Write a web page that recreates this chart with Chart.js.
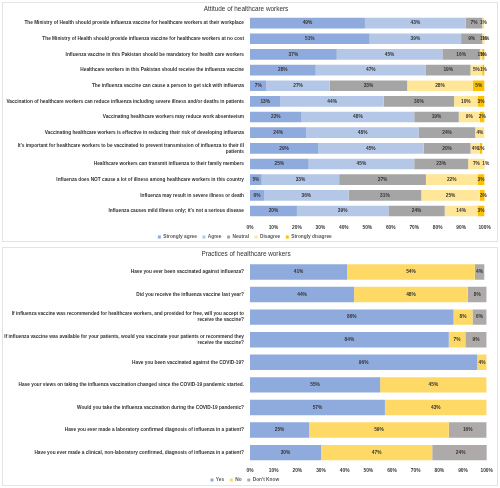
<!DOCTYPE html>
<html>
<head>
<meta charset="utf-8">
<script src="https://cdn.jsdelivr.net/npm/chart.js@4.4.1/dist/chart.umd.min.js"></script>
<style>
body { margin: 0; background: #fff; width: 500px; height: 488px; position: relative; overflow: hidden; }
.panel { position: absolute; left: 2px; width: 494px; border: 1px solid #e4e4e4; background: #fff; }
#p1 { top: 2px; height: 238px; }
#p2 { top: 247px; height: 237px; }
canvas { display: block; }
</style>
</head>
<body>
<div class="panel" id="p1"><canvas id="attitude" width="494" height="238"></canvas></div>
<div class="panel" id="p2"><canvas id="practice" width="494" height="237"></canvas></div>
<script>
const attitudeLabels = [
    'The Ministry of Health should provide influenza vaccine for healthcare workers at their workplace',
    'The Ministry of Health should provide influenza vaccine for healthcare workers at no cost',
    'Influenza vaccine in this Pakistan should be mandatory for health care workers',
    'Healthcare workers in this Pakistan should receive the influenza vaccine',
    'The influenza vaccine can cause a person to get sick with influenza',
    'Vaccination of healthcare workers can reduce influenza including severe illness and/or deaths in patients',
    'Vaccinating healthcare workers may reduce work absenteeism',
    'Vaccinating healthcare workers is effective in reducing their risk of developing influenza',
    ['It\u2019s important for healthcare workers to be vaccinated to prevent transmission of influenza to their ill', 'patients'],
    'Healthcare workers can transmit influenza to their family members',
    'Influenza does NOT cause a lot of illness among healthcare workers in this country',
    'Influenza may result in severe illness or death',
    'Influenza causes mild illness only; it\u2019s not a serious disease'
];
const stronglyAgree    = [49, 51, 37, 28, 7, 13, 22, 24, 29, 25, 5, 6, 20];
const agree            = [43, 39, 45, 47, 27, 44, 48, 48, 45, 45, 33, 36, 39];
const neutral          = [7, 9, 16, 19, 33, 30, 19, 24, 20, 23, 37, 31, 24];
const disagree         = [1, 1, 1, 5, 28, 10, 9, 4, 4, 7, 22, 25, 14];
const stronglyDisagree = [0, 1, 1, 1, 5, 3, 2, 0, 1, 1, 3, 3, 3];

const practiceLabels = [
    'Have you ever been vaccinated against influenza?',
    'Did you receive the influenza vaccine last year?',
    ['If influenza vaccine was recommended for healthcare workers, and provided for free, will you accept to', 'receive the vaccine?'],
    ['If influenza vaccine was available for your patients, would you vaccinate your patients or recommend they', 'receive the vaccine?'],
    'Have you been vaccinated against the COVID-19?',
    'Have your views on taking the influenza vaccination changed since the COVID-19 pandemic started.',
    'Would you take the influenza vaccination during the COVID-19 pandemic?',
    'Have you ever made a laboratory confirmed diagnosis of influenza in a patient?',
    'Have you ever made a clinical, non-laboratory confirmed, diagnosis of influenza in a patient?'
];
const yes       = [41, 44, 86, 84, 96, 55, 57, 25, 30];
const no        = [54, 48, 8, 7, 4, 45, 43, 59, 47];
const dontKnow  = [4, 8, 6, 9, 0, 0, 0, 16, 24];

const xTicks = [0, 10, 20, 30, 40, 50, 60, 70, 80, 90, 100];

const FONT = '"Liberation Sans", Arial, sans-serif';
const TEXT = '#333';

// writes the percent in the middle of each segment
const valueLabels = {
    id: 'valueLabels',
    afterDatasetsDraw(chart) {
        const ctx = chart.ctx;
        ctx.save();
        ctx.font = 'bold 4.8px ' + FONT;
        ctx.fillStyle = TEXT;
        ctx.textAlign = 'center';
        ctx.textBaseline = 'middle';
        chart.data.datasets.forEach((ds, i) => {
            chart.getDatasetMeta(i).data.forEach((bar, j) => {
                const v = ds.data[j];
                if (!v) return;
                const c = bar.getCenterPoint();
                ctx.fillText(v + '%', c.x, c.y);
            });
        });
        ctx.restore();
    }
};

function makeChart(canvas, title, labels, datasets, opts) {
    return new Chart(canvas, {
        type: 'bar',
        data: { labels: labels, datasets: datasets },
        plugins: [valueLabels],
        options: {
            indexAxis: 'y',
            responsive: false,
            animation: false,
            layout: { padding: { left: 0, right: 8, top: 0, bottom: 0 } },
            datasets: { bar: { barPercentage: 0.68, categoryPercentage: 1, borderWidth: 0 } },
            scales: {
                x: {
                    stacked: true,
                    min: 0,
                    max: 100,
                    grid: { display: false, drawTicks: false },
                    border: { display: false },
                    afterBuildTicks: axis => { axis.ticks = xTicks.map(v => ({ value: v })); },
                    afterFit: axis => { axis.height = opts.xAxisHeight; },
                    ticks: {
                        padding: opts.xTickPad,
                        color: TEXT,
                        font: { family: FONT, size: 4.8, weight: 'bold' },
                        callback: v => v + '%'
                    }
                },
                y: {
                    stacked: true,
                    grid: { display: false, drawTicks: false },
                    border: { display: false },
                    afterFit: axis => { axis.width = 247; },
                    ticks: {
                        padding: 6,
                        color: TEXT,
                        autoSkip: false,
                        font: { family: FONT, size: 4.75, weight: 'bold', lineHeight: 1.25 }
                    }
                }
            },
            plugins: {
                tooltip: { enabled: false },
                title: {
                    display: true,
                    text: title,
                    color: '#333',
                    font: { family: FONT, size: 6.4, weight: 'normal' },
                    padding: { top: opts.titleTop, bottom: opts.titleBottom }
                },
                legend: {
                    position: 'bottom',
                    maxHeight: opts.legendHeight,
                    labels: {
                        boxWidth: 3,
                        boxHeight: 3,
                        padding: opts.legendPad,
                        color: '#595959',
                        font: { family: FONT, size: 4.8, weight: 'bold' },
                        generateLabels: chart => Chart.defaults.plugins.legend.labels.generateLabels(chart)
                            .map(item => Object.assign(item, { text: item.text + '\u2002' }))
                    }
                }
            }
        }
    });
}

makeChart(document.getElementById('attitude'), 'Attitude of healthcare workers', attitudeLabels, [
    { label: 'Strongly agree', data: stronglyAgree, backgroundColor: '#8FAADC' },
    { label: 'Agree', data: agree, backgroundColor: '#B4C7E7' },
    { label: 'Neutral', data: neutral, backgroundColor: '#A5A5A5' },
    { label: 'Disagree', data: disagree, backgroundColor: '#FFE699' },
    { label: 'Strongly disagree', data: stronglyDisagree, backgroundColor: '#FFC000' }
], { titleTop: 2.2, titleBottom: 2.4, xTickPad: 6.3, xAxisHeight: 12.6, legendPad: 3.2, legendHeight: 9.6 });

makeChart(document.getElementById('practice'), 'Practices of healthcare workers', practiceLabels, [
    { label: 'Yes', data: yes, backgroundColor: '#8FAADC' },
    { label: 'No', data: no, backgroundColor: '#FFD966' },
    { label: "Don't Know", data: dontKnow, backgroundColor: '#AEAAAA' }
], { titleTop: 2.2, titleBottom: 2.8, xTickPad: 4.2, xAxisHeight: 10.4, legendPad: 3.3, legendHeight: 10.7 });
</script>
</body>
</html>
